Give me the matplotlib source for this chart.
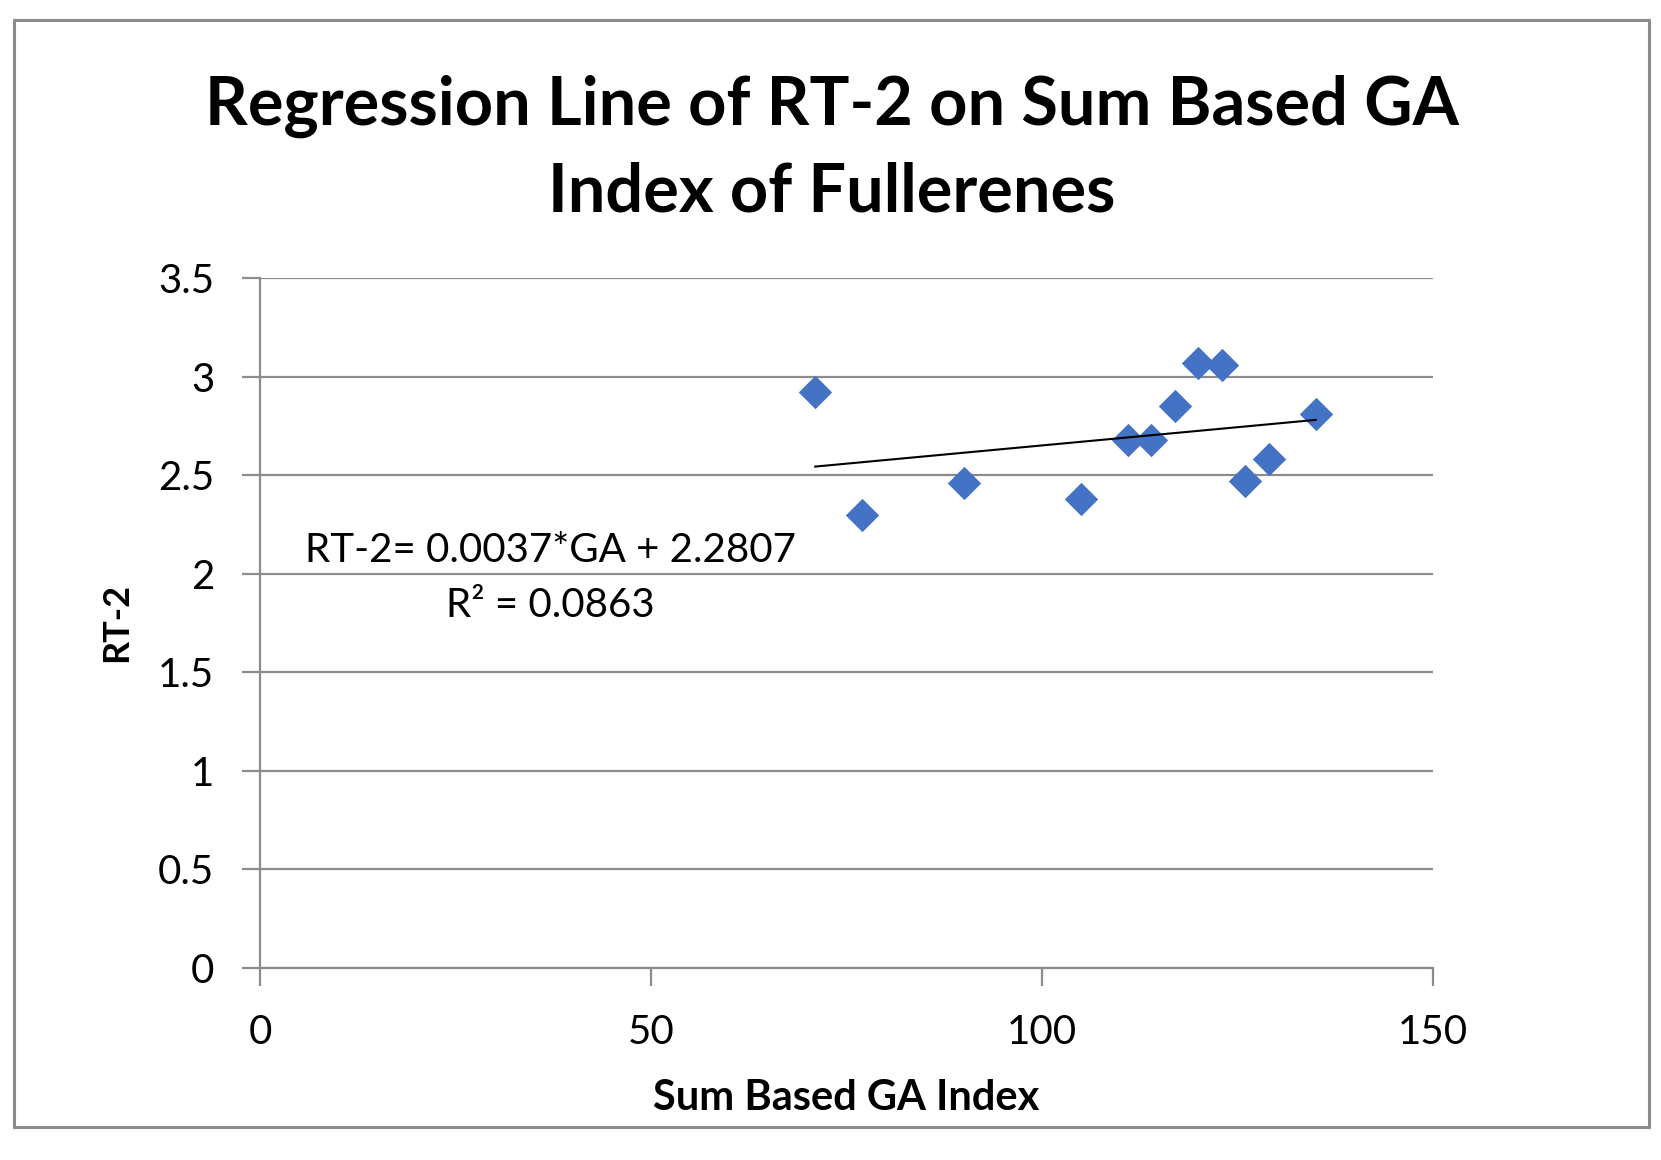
import matplotlib
matplotlib.use("Agg")
import matplotlib.pyplot as plt
from matplotlib.patches import Rectangle

# data
ga_index = [71, 77, 90, 105, 111, 114, 117, 120, 123, 126, 129, 135]
rt2 = [2.92, 2.30, 2.46, 2.38, 2.68, 2.68, 2.85, 3.07, 3.06, 2.47, 2.58, 2.81]
slope = 0.0037
intercept = 2.2807
r_squared = 0.0863
x_ticks = [0, 50, 100, 150]
y_ticks = [0, 0.5, 1, 1.5, 2, 2.5, 3, 3.5]
y_tick_labels = ["0", "0.5", "1", "1.5", "2", "2.5", "3", "3.5"]

plt.rcParams["font.family"] = ["Lato", "DejaVu Sans"]

W, H = 1661, 1160
fig = plt.figure(figsize=(W / 100, H / 100), dpi=100)
ax = fig.add_axes([260 / W, 1 - 968 / H, (1433 - 260) / W, (968 - 278) / H])

grid_col = "#8c8c8c"

# outer chart border
fig.patches.append(Rectangle((14 / W, 1 - 1127 / H), (1649 - 14) / W, (1127 - 20) / H,
                             transform=fig.transFigure, fill=False,
                             edgecolor=grid_col, linewidth=2.2))

ax.scatter(ga_index, rt2, marker="D", s=17 ** 2, color="#4472C4", zorder=3, linewidths=0)

x0, x1 = min(ga_index), max(ga_index)
ax.plot([x0, x1], [slope * x0 + intercept, slope * x1 + intercept],
        color="black", linewidth=1.5, zorder=4)

ax.set_xlim(0, 150)
ax.set_ylim(0, 3.5)
ax.set_xticks(x_ticks)
ax.set_yticks(y_ticks)
ax.set_yticklabels(y_tick_labels)
ax.yaxis.grid(True, color=grid_col, linewidth=1.6)
ax.set_axisbelow(True)

for side in ["top", "right"]:
    ax.spines[side].set_visible(False)
for side in ["left", "bottom"]:
    ax.spines[side].set_color(grid_col)
    ax.spines[side].set_linewidth(1.6)

ax.tick_params(axis="y", direction="out", length=13, width=1.6, color=grid_col,
               labelsize=29, pad=20)
ax.tick_params(axis="x", direction="out", length=13, width=1.6, color=grid_col,
               labelsize=29, pad=20)

ax.set_xlabel("Sum Based GA Index", fontsize=30, fontweight="bold", labelpad=20)
ax.set_ylabel("RT-2", fontsize=26, fontweight="bold", labelpad=18)

fig.text(832 / W, 1 - 125 / H, "Regression Line of RT-2 on Sum Based GA",
         ha="center", va="baseline", fontsize=48, fontweight="bold")
fig.text(832 / W, 1 - 212 / H, "Index of Fullerenes",
         ha="center", va="baseline", fontsize=48, fontweight="bold")

ax.text(37.1, 2.059, f"RT-2= {slope}*GA + {intercept}",
        ha="center", va="baseline", fontsize=29)
ax.text(37.1, 1.780, f"R² = {r_squared}",
        ha="center", va="baseline", fontsize=29)

fig.savefig("out.png", dpi=100, facecolor="white")
